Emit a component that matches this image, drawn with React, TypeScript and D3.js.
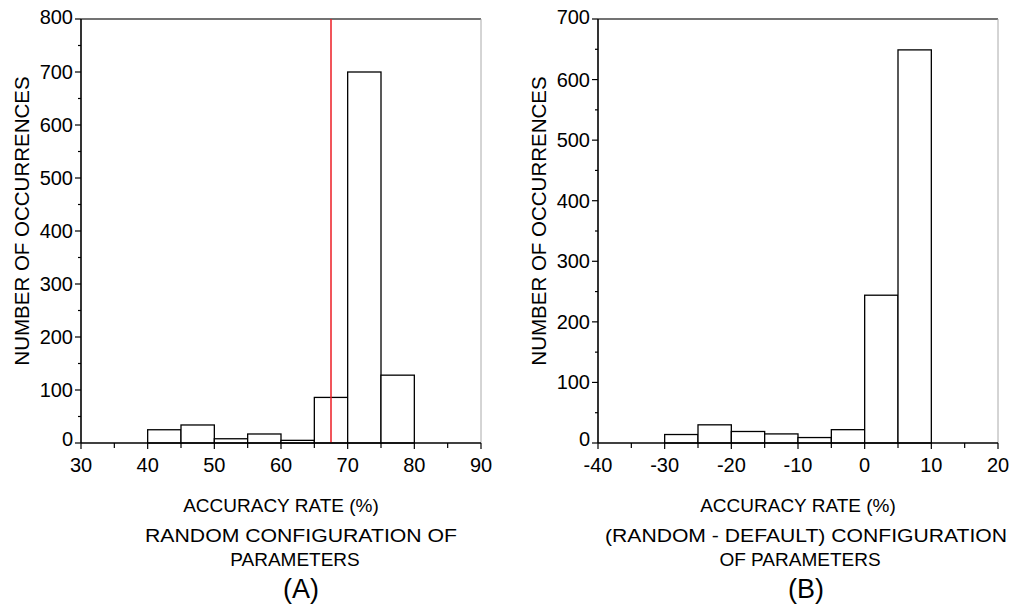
import React from "react";
import * as d3 from "d3";

// panel A: random configuration
const binsA = [40, 45, 50, 55, 60, 65, 70, 75];
const countsA = [25, 34, 8, 17, 5, 86, 700, 128];
const defaultA = 67.5;

// panel B: random - default
const binsB = [-30, -25, -20, -15, -10, -5, 0, 5];
const countsB = [14, 30, 19, 15, 9, 22, 244, 649];

const binWidth = 5;
const font = "'Liberation Sans', Arial, sans-serif";

const Panel = ({ left, xDomain, yMax, bins, counts, marker, titleLines, titleLen, label, titleX }) => {
    const top = 19;
    const bottom = 443;
    const width = 400;

    const x = d3.scaleLinear().domain(xDomain).range([left, left + width]);
    const y = d3.scaleLinear().domain([0, yMax]).range([bottom, top]);

    const xMajor = d3.range(xDomain[0], xDomain[1] + 1, 10);
    const xMinor = d3.range(xDomain[0] + 5, xDomain[1], 10);
    const yMajor = d3.range(0, yMax + 1, 100);
    const yMinor = d3.range(50, yMax, 100);

    // end labels sit a little higher
    const labelDy = (v) => (v === 0 ? 3 : v === yMax ? 5 : 7);

    return (
        <g fontFamily={font} fill="#000">
            {/* frame */}
            <line x1={left} x2={left + width} y1={top} y2={top} stroke="#444" strokeWidth={1.3} />
            <line x1={left + width} x2={left + width} y1={top} y2={bottom} stroke="#aaa" strokeWidth={1} />

            {bins.map((b, i) => (
                <rect
                    key={b}
                    x={x(b)}
                    y={y(counts[i])}
                    width={x(b + binWidth) - x(b)}
                    height={bottom - y(counts[i])}
                    fill="#fff"
                    stroke="#000"
                    strokeWidth={1.3}
                />
            ))}

            {marker !== undefined && (
                <line x1={x(marker)} x2={x(marker)} y1={top} y2={bottom} stroke="#ec1c24" strokeWidth={1.5} />
            )}

            {/* axes */}
            <line x1={left} x2={left + width} y1={bottom} y2={bottom} stroke="#000" strokeWidth={1.6} />
            <line x1={left} x2={left} y1={top} y2={bottom} stroke="#000" strokeWidth={1.6} />

            {xMajor.map((v) => (
                <g key={"xm" + v}>
                    <line x1={x(v)} x2={x(v)} y1={bottom} y2={bottom + 6} stroke="#000" strokeWidth={1.2} />
                    <text x={x(v)} y={472} fontSize={20} textAnchor="middle">{v}</text>
                </g>
            ))}
            {xMinor.map((v) => (
                <line key={"xn" + v} x1={x(v)} x2={x(v)} y1={bottom} y2={bottom + 5} stroke="#000" strokeWidth={1.2} />
            ))}

            {yMajor.map((v) => (
                <g key={"ym" + v}>
                    <line x1={left - 6} x2={left} y1={y(v)} y2={y(v)} stroke="#000" strokeWidth={1.2} />
                    <text x={left - 8} y={y(v) + labelDy(v)} fontSize={20} textAnchor="end">{v}</text>
                </g>
            ))}
            {yMinor.map((v) => (
                <line key={"yn" + v} x1={left - 3} x2={left} y1={y(v)} y2={y(v)} stroke="#000" strokeWidth={1.2} />
            ))}

            <text
                transform={`translate(${left - 52},${(top + bottom) / 2 - 10}) rotate(-90)`}
                fontSize={20.5}
                textAnchor="middle"
            >
                NUMBER OF OCCURRENCES
            </text>

            <text x={left + width / 2} y={512} fontSize={19} textAnchor="middle">ACCURACY RATE (%)</text>
            <text x={titleX} y={542} fontSize={19} textAnchor="middle" textLength={titleLen} lengthAdjust="spacingAndGlyphs">
                {titleLines[0]}
            </text>
            <text x={titleX - 6} y={566} fontSize={19} textAnchor="middle">{titleLines[1]}</text>
            <text x={titleX} y={598} fontSize={27} textAnchor="middle">{label}</text>
        </g>
    );
};

export default function App() {
    return (
        <svg width={1010} height={604} style={{ position: "absolute", left: 0, top: 0, background: "#fff" }}>
            <Panel
                left={81}
                xDomain={[30, 90]}
                yMax={800}
                bins={binsA}
                counts={countsA}
                marker={defaultA}
                titleLines={["RANDOM CONFIGURATION OF", "PARAMETERS"]}
                titleLen={312}
                label="(A)"
                titleX={301}
            />
            <Panel
                left={598}
                xDomain={[-40, 20]}
                yMax={700}
                bins={binsB}
                counts={countsB}
                titleLines={["(RANDOM - DEFAULT) CONFIGURATION", "OF PARAMETERS"]}
                titleLen={402}
                label="(B)"
                titleX={806}
            />
        </svg>
    );
}
